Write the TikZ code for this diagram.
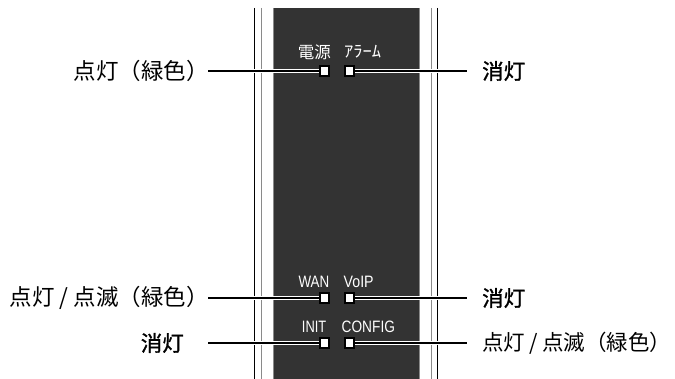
\documentclass[tikz,border=0pt]{standalone}
\usepackage{fontspec}
\newfontfamily\jp{Noto Sans CJK JP}
\newfontfamily\jpb[FakeBold=1.3]{Noto Sans CJK JP}
\setmainfont{Liberation Sans}
\definecolor{panel}{HTML}{333333}
\definecolor{edge}{HTML}{8A8A8A}
\begin{document}
\begin{tikzpicture}[x=1pt,y=-1pt,
  jlabel/.style={font=\jp\fontsize{22.5}{24}\selectfont,inner sep=0pt},
  jbold/.style={font=\jpb\fontsize{21.5}{23}\selectfont,inner sep=0pt},
  plabel/.style={text=white,inner sep=0pt,font=\fontsize{16.5}{18}\selectfont},
  kplabel/.style={text=white,inner sep=0pt,font=\jp\fontsize{16.5}{18}\selectfont},
  led/.style={draw=black,fill=white,line width=1.6pt,minimum width=7.5pt,minimum height=8.5pt,inner sep=0pt},
  halo/.style={white,line width=4.6pt},
  leader/.style={black,line width=2.2pt},
  rail/.style={line width=1.1pt}]
\useasboundingbox (0,0) rectangle (675,379);
% rails and panel
\fill[panel] (273,8) rectangle (419.5,379);
\draw[edge,line width=1pt] (273.5,8) -- (273.5,379);
\draw[edge,line width=1pt] (419,8) -- (419,379);
\draw[rail,black] (254.7,8) -- (254.7,379);
\draw[rail,edge] (261.3,8) -- (261.3,379);
\draw[rail,edge] (431.7,8) -- (431.7,379);
\draw[rail,black] (437.3,8) -- (437.3,379);
% panel labels
\node[kplabel,anchor=east] (tpow) at (331,52) {電源};
\node[kplabel,anchor=west] (talm) at (344,52) {\scalebox{1.12}[1]{ｱﾗｰﾑ}};
\node[plabel,anchor=east] (twan) at (329.5,281.5) {\scalebox{0.81}[1]{WAN}};
\node[plabel,anchor=west] (tvoip) at (343.5,281.5) {\scalebox{0.86}[1]{VoIP}};
\node[plabel,anchor=east] (tinit) at (326.5,326.5) {\scalebox{0.78}[1]{INIT}};
\node[plabel,anchor=west] (tconf) at (341.5,326.5) {\scalebox{0.83}[1]{CONFIG}};
% LEDs
\node[led] (lpow) at (324.5,71) {};
\node[led] (lalm) at (349.5,71) {};
\node[led] (lwan) at (324.5,298) {};
\node[led] (lvoip) at (349.5,298) {};
\node[led] (linit) at (324.5,343) {};
\node[led] (lconf) at (349.5,343) {};
% outer labels
\node[jlabel,anchor=east] (a1) at (209,71) {点灯（緑色）};
\node[jbold,anchor=west] (a2) at (482,71) {消灯};
\node[jlabel,anchor=east] (a3) at (209,298) {点灯\makebox[0.85em]{/}点滅（緑色）};
\node[jbold,anchor=west] (a4) at (482,298) {消灯};
\node[jbold,anchor=east] (a5) at (184,343) {消灯};
\node[jlabel,anchor=west,font=\jp\fontsize{21.5}{23}\selectfont] (a6) at (482,343) {点灯\makebox[0.8em]{/}点滅（緑色）};
% leader anchors
\coordinate (e1) at (208,71);
\coordinate (e3) at (208,298);
\coordinate (e5) at (208,343);
\coordinate (e2) at (467,71);
\coordinate (e4) at (467,298);
\coordinate (e6) at (467,343);
% leaders
\foreach \s/\t in {e1/lpow.west, e3/lwan.west, e5/linit.west}{
  \draw[halo] (\s) -- (\t);
  \draw[leader] (\s) -- (\t);
}
\foreach \s/\t in {lalm.east/e2, lvoip.east/e4, lconf.east/e6}{
  \draw[halo] (\s) -- (\t);
  \draw[leader] (\s) -- (\t);
}
% redraw LEDs on top
\foreach \n in {lpow,lalm,lwan,lvoip,linit,lconf}{
  \draw[black,fill=white,line width=1.6pt] (\n.south west) rectangle (\n.north east);
}
\end{tikzpicture}
\end{document}
